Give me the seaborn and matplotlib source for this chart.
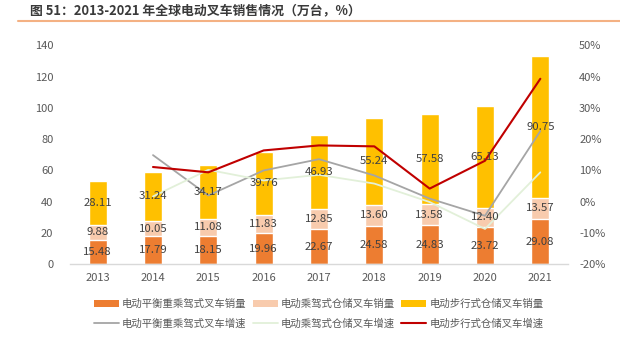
import numpy as np
import pandas as pd
import matplotlib
matplotlib.use("Agg")
import matplotlib.pyplot as plt
from matplotlib.lines import Line2D
from matplotlib.patches import Patch
import seaborn as sns

years = ["2013", "2014", "2015", "2016", "2017", "2018", "2019", "2020", "2021"]
counterbalance = [15.48, 17.79, 18.15, 19.96, 22.67, 24.58, 24.83, 23.72, 29.08]
ride_warehouse = [9.88, 10.05, 11.08, 11.83, 12.85, 13.60, 13.58, 12.40, 13.57]
walk_warehouse = [28.11, 31.24, 34.17, 39.76, 46.93, 55.24, 57.58, 65.13, 90.75]

growth_years = ["2014", "2015", "2016", "2017", "2018", "2019", "2020", "2021"]
growth_counter = [14.9, 2.0, 10.0, 13.6, 8.4, 1.0, -4.5, 22.6]
growth_ride = [1.7, 10.2, 6.8, 8.6, 5.8, -0.1, -8.7, 9.4]
growth_walk = [11.1, 9.4, 16.4, 18.0, 17.7, 4.2, 13.1, 39.3]

bar_names = ["电动平衡重乘驾式叉车销量", "电动乘驾式仓储叉车销量", "电动步行式仓储叉车销量"]
line_names = ["电动平衡重乘驾式叉车增速", "电动乘驾式仓储叉车增速", "电动步行式仓储叉车增速"]
title = "图 51：2013-2021 年全球电动叉车销售情况（万台，%）"

c_orange, c_peach, c_yellow = "#ED7D31", "#F8CBAD", "#FFC000"
c_gray, c_green, c_red = "#A5A5A5", "#E2F0D9", "#C00000"
tick_color = "#595959"
label_color = "#404040"

sns.set_theme(style="white")
plt.rcParams["font.family"] = ["Noto Sans CJK SC", "DejaVu Sans"]

fig = plt.figure(figsize=(6.2, 3.47), dpi=100)
ax = fig.add_axes([70 / 620, 1 - 264.3 / 347, 498 / 620, 219 / 347])

df = pd.DataFrame({"year": years, "a": counterbalance, "b": ride_warehouse, "c": walk_warehouse})
df["ab"] = df["a"] + df["b"]
df["abc"] = df["ab"] + df["c"]

sns.barplot(data=df, x="year", y="abc", color=c_yellow, width=0.32, saturation=1, ax=ax, order=years)
sns.barplot(data=df, x="year", y="ab", color=c_peach, width=0.32, saturation=1, ax=ax, order=years)
sns.barplot(data=df, x="year", y="a", color=c_orange, width=0.32, saturation=1, ax=ax, order=years)

ax.set_ylim(0, 140)
ax.set_yticks(np.arange(0, 141, 20))
ax.set_xlim(-0.5, 8.5)
ax.set_xlabel("")
ax.set_ylabel("")
for s in ["left", "right", "top"]:
    ax.spines[s].set_visible(False)
ax.spines["bottom"].set_color("#D9D9D9")
ax.spines["bottom"].set_linewidth(1)
ax.tick_params(axis="y", length=0, pad=12, labelsize=8, labelcolor=tick_color)
ax.tick_params(axis="x", length=0, pad=6.5, labelsize=8, labelcolor=tick_color)

ax2 = ax.twinx()
gdf = pd.DataFrame({"pos": [years.index(y) for y in growth_years],
                    "g1": growth_counter, "g2": growth_ride, "g3": growth_walk})
sns.lineplot(data=gdf, x="pos", y="g1", color=c_gray, linewidth=1.3, ax=ax2)
sns.lineplot(data=gdf, x="pos", y="g2", color=c_green, linewidth=1.3, ax=ax2)
sns.lineplot(data=gdf, x="pos", y="g3", color=c_red, linewidth=1.5, ax=ax2)
ax2.set_ylim(-20, 50)
ax2.set_yticks(np.arange(-20, 51, 10))
ax2.set_yticklabels([f"{v}%" for v in range(-20, 51, 10)])
ax2.set_xlim(-0.5, 8.5)
ax2.set_xlabel("")
ax2.set_ylabel("")
for s in ["left", "right", "top", "bottom"]:
    ax2.spines[s].set_visible(False)
ax2.tick_params(axis="y", length=0, pad=8, labelsize=8, labelcolor=tick_color)

# data labels
for i in range(len(years)):
    a, b, c = counterbalance[i], ride_warehouse[i], walk_warehouse[i]
    for val, mid in [(a, a / 2), (b, a + b / 2), (c, a + b + c / 2)]:
        ax2.text(i, mid, f"{val:.2f}", transform=ax.transData, ha="center", va="center",
                 fontsize=8.2, color=label_color, zorder=10)

handles = [
    Patch(facecolor=c_orange, edgecolor="none"),
    Line2D([0], [0], color=c_gray, lw=1.3),
    Patch(facecolor=c_peach, edgecolor="none"),
    Line2D([0], [0], color=c_green, lw=1.3),
    Patch(facecolor=c_yellow, edgecolor="none"),
    Line2D([0], [0], color=c_red, lw=1.5),
]
labels = [bar_names[0], line_names[0], bar_names[1], line_names[1], bar_names[2], line_names[2]]
fig.legend(handles, labels, ncol=3, loc="center", bbox_to_anchor=(0.514, 0.095),
           frameon=False, fontsize=7.5, handlelength=2.4, handleheight=0.6,
           handletextpad=0.3, columnspacing=0.6, labelspacing=0.9, labelcolor=tick_color)

fig.text(30 / 620, 1 - 10 / 347, title, fontsize=9.3, fontweight="bold", color="#3A3A3A",
         ha="left", va="center")
fig.add_artist(Line2D([18 / 620, 1], [1 - 21 / 347, 1 - 21 / 347], color="#F4B183", lw=1.5))

fig.savefig("out.png", dpi=100)
